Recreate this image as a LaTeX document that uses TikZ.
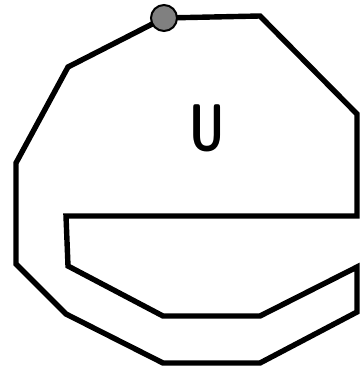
\documentclass[tikz,border=0pt]{standalone}
\usepackage{fontspec}
\usepackage{graphicx}
\begin{document}
\begin{tikzpicture}[x=1pt,y=-1pt,
  outline/.style={line width=5.4pt, line join=miter, black},
  knob/.style={circle, draw=black, line width=2pt, fill=black!50, minimum size=26pt, inner sep=0pt},
  letter/.style={inner sep=0pt, font=\sffamily\bfseries\fontsize{66}{66}\selectfont}]
\useasboundingbox (0,0) rectangle (360,369);
\coordinate (p1) at (260,16);
\coordinate (p2) at (357,114);
\coordinate (p3) at (357,216);
\coordinate (p4) at (66,216);
\coordinate (p5) at (68,266);
\coordinate (p6) at (163,316);
\coordinate (p7) at (260,316);
\coordinate (p8) at (357,267);
\coordinate (p9) at (357,312);
\coordinate (p10) at (260,363);
\coordinate (p11) at (163,363);
\coordinate (p12) at (66,314);
\coordinate (p13) at (16,264);
\coordinate (p14) at (16,163);
\coordinate (p15) at (68,67);
\coordinate (d) at (164,18);
\draw[outline] (d) -- (p1) -- (p2) -- (p3) -- (p4) -- (p5) -- (p6) -- (p7) -- (p8) -- (p9) -- (p10) -- (p11) -- (p12) -- (p13) -- (p14) -- (p15) -- cycle;
\node[knob] (dot) at (d) {};
\node[letter] (u) at (207.5,128) {\scalebox{0.7}[1]{U}};
\end{tikzpicture}
\end{document}
